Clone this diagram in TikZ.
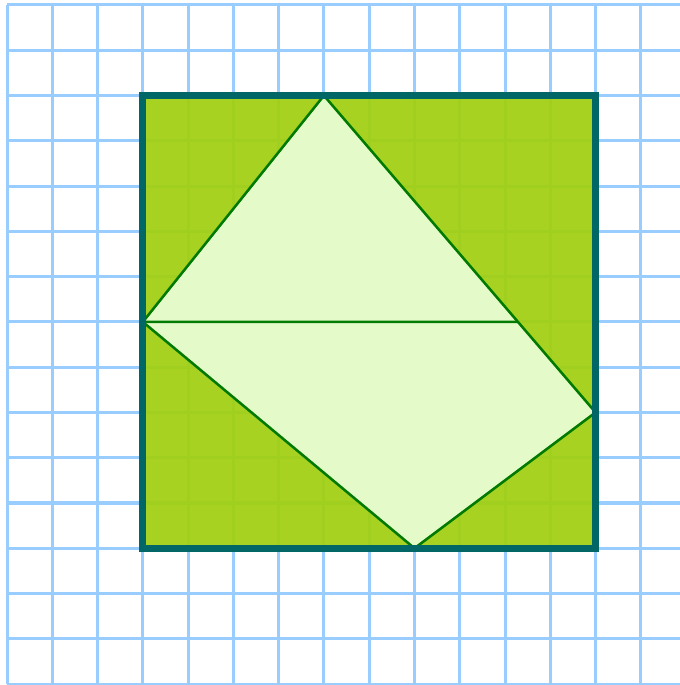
\documentclass[tikz,border=0pt]{standalone}
\usepackage{xcolor}
\usepackage{tikz}
\usetikzlibrary{calc, intersections}

\definecolor{gridblue}{HTML}{99CCFF}
\definecolor{frameteal}{HTML}{006666}
\definecolor{leafgreen}{HTML}{A2D015}
\definecolor{palelight}{HTML}{EDFFDC}
\definecolor{edgegreen}{HTML}{007A00}

\begin{document}
\begin{tikzpicture}
        \tikzstyle{gridline} = [draw=gridblue, line width=1.9pt]
        \tikzstyle{frame} = [draw=frameteal, line width=4.4pt]
        \tikzstyle{cut} = [draw=edgegreen, line width=1.6pt]

        \useasboundingbox (-0.155,-15.02) rectangle (14.856,0.11);

        % grid paper
        \foreach \i in {0,...,14}
            \draw [gridline] (\i,0) -- (\i,-15);
        \foreach \j in {0,...,15}
            \draw [gridline] (0,-\j) -- (14.9,-\j);

        % corner points
        \coordinate (sqa) at (3,-2);
        \coordinate (sqb) at (13,-12);
        \coordinate (top) at (7,-2);
        \coordinate (left) at (3,-7);
        \coordinate (bottom) at (9,-12);
        \coordinate (right) at (13,-9);
        \coordinate (mid) at ($(top)!5/7!(right)$);

        \fill [leafgreen, fill opacity=0.95] (sqa) rectangle (sqb);
        \fill [palelight, fill opacity=0.9] (top) -- (left) -- (bottom) -- (right) -- cycle;

        \draw [cut] (top) -- (left) -- (bottom) -- (right) -- cycle;
        \draw [cut] (left) -- (mid);
        \draw [frame] (sqa) rectangle (sqb);
    \end{tikzpicture}
\end{document}
